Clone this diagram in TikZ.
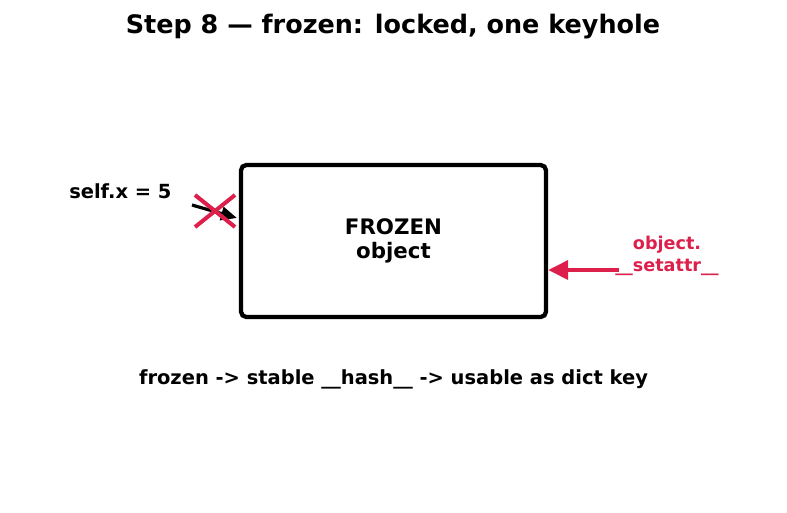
\documentclass[tikz,border=0pt]{standalone}
\usepackage{fontspec}
\setmainfont{DejaVu Sans}
\usetikzlibrary{arrows.meta}
\definecolor{crim}{HTML}{DC1F4B}
\begin{document}
\begin{tikzpicture}[x=0.75pt,y=-0.75pt,
  lbl/.style={font=\bfseries\fontsize{14.6}{17}\selectfont, inner sep=0pt},
  redlbl/.style={font=\bfseries\fontsize{13.2}{16.5}\selectfont, text=crim, align=center, inner sep=0pt},
  objbox/.style={draw, line width=3.2pt, rounded corners=4pt, minimum width=305*0.75pt, minimum height=152*0.75pt, align=center, font=\bfseries\fontsize{16}{17.5}\selectfont}]
\useasboundingbox (0,0) rectangle (787,512);
\node[font=\bfseries\fontsize{19.1}{22}\selectfont, inner sep=0pt] (title) at (393,27) {Step 8 — frozen: locked, one keyhole};
\node[objbox] (box) at (393.5,241) {FROZEN\\object};
\node[lbl, anchor=west] (selfx) at (69,191) {self.x = 5};
\coordinate (bs) at (192,205);
\coordinate (be) at (237,218);
\draw[line width=2.4pt, -{Triangle[length=12pt,width=10pt]}] (bs) -- (be);
\coordinate (xc) at (215,211);
\draw[crim, line width=3pt] ([shift={(-20,-16)}]xc) -- ([shift={(20,16)}]xc);
\draw[crim, line width=3pt] ([shift={(-20,16)}]xc) -- ([shift={(20,-16)}]xc);
\node[redlbl] (setattr) at (667,256) {object.\\\_\_setattr\_\_};
\coordinate (rs) at (619,270);
\draw[crim, line width=3.3pt, -{Triangle[length=15pt,width=14pt]}] (rs) -- (box.east |- rs);
\node[lbl] (note) at (393.5,379) {frozen -> stable \_\_hash\_\_ -> usable as dict key};
\end{tikzpicture}
\end{document}
